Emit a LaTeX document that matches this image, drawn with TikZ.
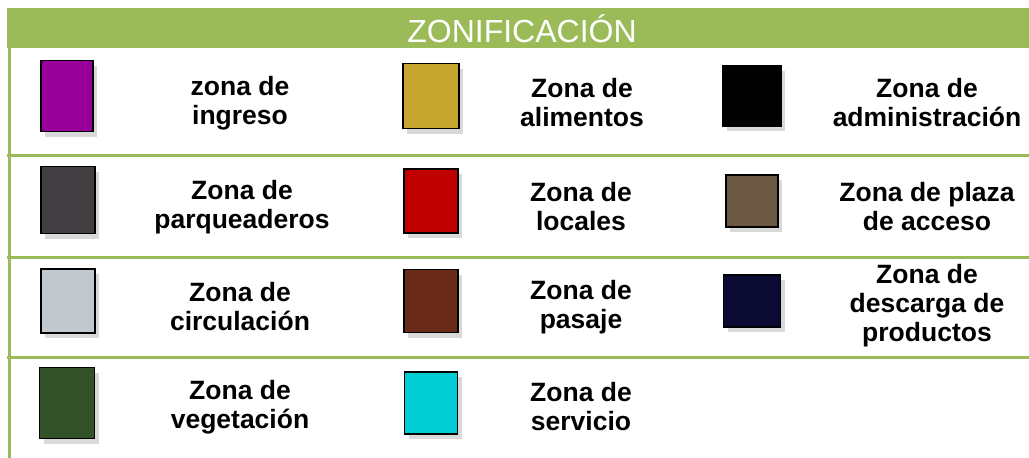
\documentclass[tikz,border=0pt]{standalone}
\usepackage{fontspec}
\setmainfont{Liberation Sans}
\usetikzlibrary{positioning, shadows}

\definecolor{olivegreen}{HTML}{9BBB59}
\definecolor{zingreso}{HTML}{990099}
\definecolor{zalimentos}{HTML}{C6A62F}
\definecolor{zadmin}{HTML}{000000}
\definecolor{zparqueo}{HTML}{433E42}
\definecolor{zlocales}{HTML}{C00000}
\definecolor{zplaza}{HTML}{6B5944}
\definecolor{zcirc}{HTML}{C2C9CE}
\definecolor{zpasaje}{HTML}{6A2A18}
\definecolor{zdescarga}{HTML}{0A0A33}
\definecolor{zveget}{HTML}{345227}
\definecolor{zservicio}{HTML}{00CCD3}

\begin{document}
\begin{tikzpicture}[x=1pt, y=-1pt]
                \tikzset{
                    swatch/.style={draw=black, line width=1.2pt, inner sep=0pt,
                        minimum width=54pt, minimum height=66pt,
                        drop shadow={shadow xshift=4pt, shadow yshift=-5pt, opacity=.3}},
                    label/.style={align=center, font=\bfseries\fontsize{26.5}{29}\selectfont},
                    rule/.style={draw=olivegreen, line width=3pt}
                }
                \useasboundingbox (0,0) rectangle (1029,458);

                % HEADER
                \fill[olivegreen] (7,8) rectangle (1029,48);
                \node[text=white, font=\fontsize{32}{34}\selectfont] (title) at (522,29) {ZONIFICACIÓN};

                % FRAME
                \coordinate (ltop) at (9,48);
                \coordinate (lbot) at (9,458);
                \coordinate (r1a) at (7,155);
                \coordinate (r1b) at (1029,155);
                \coordinate (r2a) at (7,257);
                \coordinate (r2b) at (1029,257);
                \coordinate (r3a) at (7,357);
                \coordinate (r3b) at (1029,357);
                \path[rule] (ltop) -- (lbot);
                \path[rule] (r1a) -- (r1b);
                \path[rule] (r2a) -- (r2b);
                \path[rule] (r3a) -- (r3b);

                % ROW 1
                \node[swatch, fill=zingreso, minimum width=52pt, minimum height=71pt] (ingreso) at (67,96) {};
                \node[label] (lingreso) at (240,103) {zona de\\ingreso};
                \node[swatch, fill=zalimentos, minimum width=56pt, minimum height=65pt] (alimentos) at (431,96) {};
                \node[label] (lalimentos) at (582,103) {Zona de\\alimentos};
                \node[swatch, fill=zadmin, minimum width=58pt, minimum height=60pt] (admin) at (752,96) {};
                \node[label] (ladmin) at (927,103) {Zona de\\administración};

                % ROW 2
                \node[swatch, fill=zparqueo, minimum width=54pt, minimum height=67pt] (parqueo) at (68,200) {};
                \node[label] (lparqueo) at (242,207) {Zona de\\parqueaderos};
                \node[swatch, fill=zlocales, minimum width=54pt, minimum height=64pt] (locales) at (431,201) {};
                \node[label] (llocales) at (581,207) {Zona de\\locales};
                \node[swatch, fill=zplaza, minimum width=52pt, minimum height=52pt] (plaza) at (752,201) {};
                \node[label] (lplaza) at (927,207) {Zona de plaza\\de acceso};

                % ROW 3
                \node[swatch, fill=zcirc, minimum width=54pt, minimum height=64pt] (circ) at (68,301) {};
                \node[label] (lcirc) at (240,307) {Zona de\\circulación};
                \node[swatch, fill=zpasaje, minimum width=54pt, minimum height=63pt] (pasaje) at (431,301) {};
                \node[label] (lpasaje) at (581,307) {Zona de\\pasaje};
                \node[swatch, fill=zdescarga, minimum width=57pt, minimum height=52pt] (descarga) at (752,301) {};
                \node[label] (ldescarga) at (927,306) {Zona de\\descarga de\\productos};

                % ROW 4
                \node[swatch, fill=zveget, minimum width=55pt, minimum height=71pt] (veget) at (67,403) {};
                \node[label] (lveget) at (240,407) {Zona de\\vegetación};
                \node[swatch, fill=zservicio, minimum width=53pt, minimum height=62pt] (servicio) at (431,403) {};
                \node[label] (lservicio) at (581,407) {Zona de\\servicio};

            \end{tikzpicture}
\end{document}
